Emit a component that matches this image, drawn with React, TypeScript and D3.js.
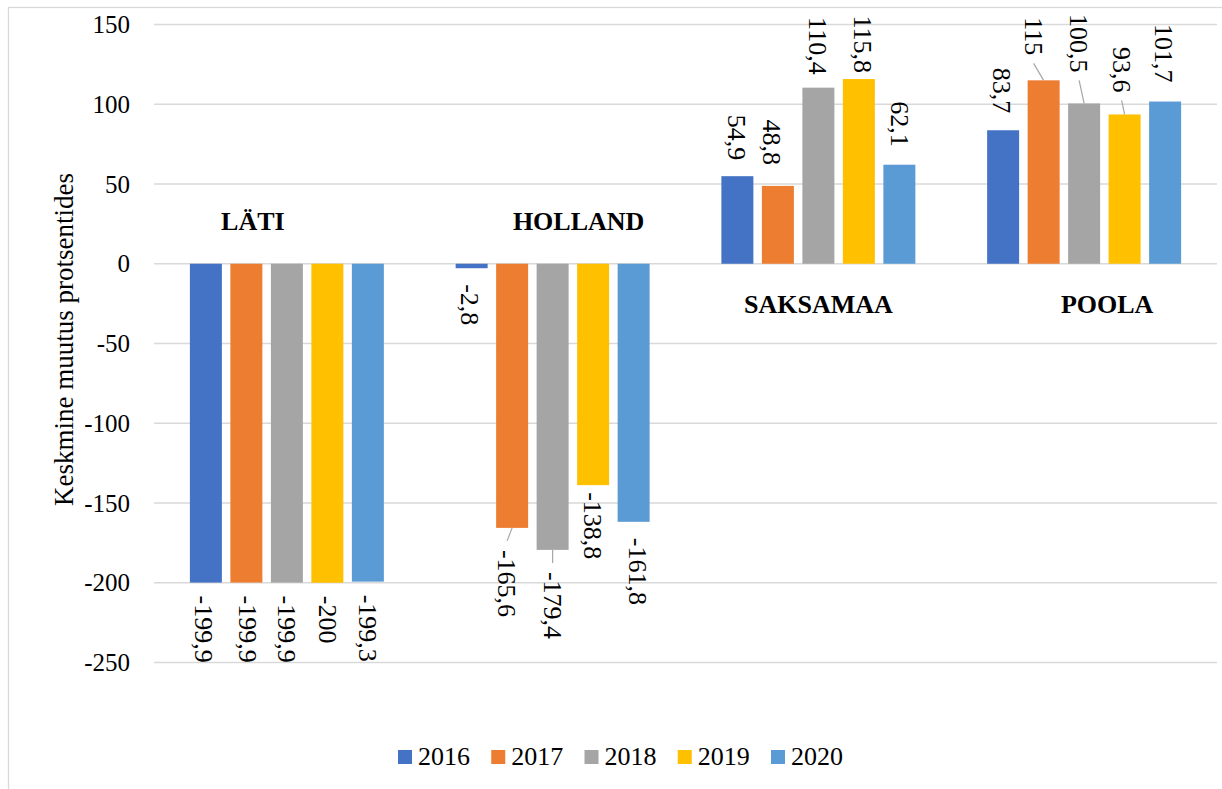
import React from "react";
import * as d3 from "d3";

const categories = ["LÄTI", "HOLLAND", "SAKSAMAA", "POOLA"];
const years = ["2016", "2017", "2018", "2019", "2020"];

// values per year, in category order
const v2016 = [-199.9, -2.8, 54.9, 83.7];
const v2017 = [-199.9, -165.6, 48.8, 115];
const v2018 = [-199.9, -179.4, 110.4, 100.5];
const v2019 = [-200, -138.8, 115.8, 93.6];
const v2020 = [-199.3, -161.8, 62.1, 101.7];
const seriesValues = [v2016, v2017, v2018, v2019, v2020];

const yTicks = [150, 100, 50, 0, -50, -100, -150, -200, -250];
const colors = ["#4472C4", "#ED7D31", "#A5A5A5", "#FFC000", "#5B9BD5"];

// label placement tweaks (px) taken from the original, [category][year]
const labelGap = [
  [13, 13, 13, 13, 13],
  [16, 22, 22, 7, 16],
  [16, 21, 13, 6, 18],
  [17, 25, 31, 22, 19],
];
const labelDx = [
  [-2, 1, 0, 0, 0],
  [-2, -5, 0, 0, 4],
  [-1, -6, -1, 4, 0],
  [-1, -10, -5, -3, -1],
];
const leader = [
  [0, 0, 0, 0, 0],
  [0, 1, 1, 0, 0],
  [0, 0, 0, 0, 0],
  [0, 1, 1, 1, 0],
];
// category name boxes: x shift from group centre, y in data units
const catDx = [-34, 26, 0, 23];
const catY = [21.2, 21.2, -30.9, -30.9];

const FONT = "Liberation Serif, Times New Roman, DejaVu Serif, serif";

export default function App() {
  const width = 1222;
  const height = 789;
  const plot = { left: 154, right: 1217, top: 24.5, bottom: 662.5 };

  const x0 = d3.scaleBand().domain(categories).range([plot.left, plot.right]).padding(0);
  const x1 = d3
    .scaleBand()
    .domain(years)
    .range([0, x0.bandwidth()])
    .paddingInner(0.21)
    .paddingOuter(0.886);
  const y = d3.scaleLinear().domain([-250, 150]).range([plot.bottom, plot.top]);

  const fmt = (v: number) => String(v).replace(".", ",");

  const legendX = d3.scalePoint().domain(years).range([398, 771]);
  const txt = { fontFamily: FONT };

  return (
    <svg
      width={width}
      height={height}
      style={{ position: "absolute", left: 0, top: 0, background: "#fff", fontFamily: FONT }}
    >
      <rect x={0} y={0} width={width} height={height} fill="#fff" />
      {/* chart frame */}
      <rect x={8.5} y={7.5} width={width + 20} height={height + 20} fill="none" stroke="#d9d9d9" strokeWidth={1.3} />

      {/* gridlines + ticks */}
      {yTicks.map((t) => (
        <g key={t}>
          <line x1={plot.left} x2={plot.right} y1={y(t)} y2={y(t)} stroke="#d9d9d9" strokeWidth={1.3} />
          <text x={130} y={y(t)} dy="0.34em" textAnchor="end" fontSize={25} fill="#000" style={txt}>
            {t}
          </text>
        </g>
      ))}

      <text
        transform={`translate(73, 339.5) rotate(-90)`}
        textAnchor="middle"
        fontSize={27}
        fill="#000"
        style={txt}
      >
        Keskmine muutus protsentides
      </text>

      {/* bars */}
      {categories.map((c, ci) => (
        <g key={c} transform={`translate(${x0(c)},0)`}>
          {years.map((yr, si) => {
            const v = seriesValues[si][ci];
            const bx = x1(yr) as number;
            const top = Math.min(y(v), y(0));
            const h = Math.abs(y(v) - y(0));
            return (
              <rect key={yr} x={bx} y={top} width={x1.bandwidth()} height={h} fill={colors[si]} />
            );
          })}
        </g>
      ))}

      {/* data labels */}
      {categories.map((c, ci) =>
        years.map((yr, si) => {
          const v = seriesValues[si][ci];
          const cx = (x0(c) as number) + (x1(yr) as number) + x1.bandwidth() / 2;
          const lx = cx + labelDx[ci][si];
          const neg = v < 0;
          const ly = neg ? y(v) + labelGap[ci][si] : y(v) - labelGap[ci][si];
          const label = fmt(v);
          return (
            <g key={c + yr}>
              {leader[ci][si] ? (
                <line
                  x1={cx}
                  y1={y(v)}
                  x2={lx}
                  y2={neg ? ly - 9 : ly + 8}
                  stroke="#a6a6a6"
                  strokeWidth={1.2}
                />
              ) : null}
              <text
                transform={`translate(${lx},${ly}) rotate(90)`}
                textAnchor={neg ? "start" : "end"}
                dy="0.34em"
                fontSize={26}
                fill="#000"
                style={txt}
              >
                {label}
              </text>
            </g>
          );
        })
      )}

      {/* category names */}
      {categories.map((c, ci) => (
        <text
          key={c}
          x={(x0(c) as number) + x0.bandwidth() / 2 + catDx[ci]}
          y={y(catY[ci])}
          textAnchor="middle"
          fontSize={26}
          fontWeight="bold"
          fill="#000"
          style={txt}
        >
          {c}
        </text>
      ))}

      {/* legend */}
      {years.map((yr, si) => (
        <g key={yr} transform={`translate(${legendX(yr)},750)`}>
          <rect x={0} y={0} width={14} height={14} fill={colors[si]} />
          <text x={20} y={15} fontSize={26} fill="#000" style={txt}>
            {yr}
          </text>
        </g>
      ))}
    </svg>
  );
}
